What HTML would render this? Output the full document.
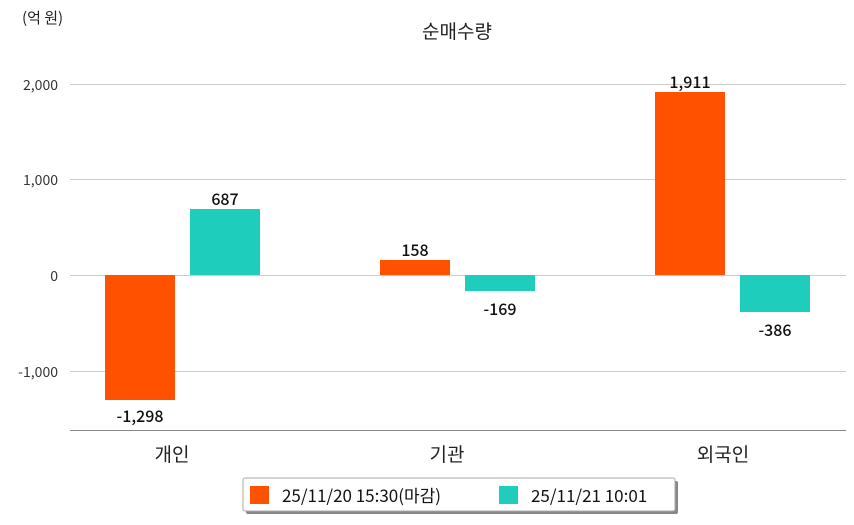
<!DOCTYPE html>
<html><head><meta charset="utf-8"><style>
body{margin:0;background:#fff;}
svg text{font-family:"Noto Sans CJK KR","Liberation Sans",sans-serif;}
</style></head><body>
<svg width="854" height="520" xmlns="http://www.w3.org/2000/svg">
<rect width="854" height="520" fill="#fff"/>
<text x="22" y="23" font-size="15" fill="#222">(억 원)</text>
<text x="457" y="38" font-size="19" fill="#222" text-anchor="middle">순매수량</text>
<g stroke="#cccccc" stroke-width="1">
<line x1="70" y1="84.5" x2="846" y2="84.5"/>
<line x1="70" y1="179.5" x2="846" y2="179.5"/>
<line x1="70" y1="275.5" x2="846" y2="275.5"/>
<line x1="70" y1="371.5" x2="846" y2="371.5"/>
</g>
<line x1="70" y1="430.5" x2="846" y2="430.5" stroke="#888" stroke-width="1"/>
<g font-size="14" fill="#333" text-anchor="end">
<text x="58" y="90">2,000</text>
<text x="58" y="185">1,000</text>
<text x="58" y="281">0</text>
<text x="58" y="377">-1,000</text>
</g>
<g fill="#ff5100">
<rect x="105" y="275" width="70" height="125"/>
<rect x="380" y="260" width="70" height="15"/>
<rect x="655" y="92" width="70" height="183"/>
</g>
<g fill="#1ecdbb">
<rect x="190" y="209" width="70" height="66"/>
<rect x="465" y="275" width="70" height="16"/>
<rect x="740" y="275" width="70" height="37"/>
</g>
<g font-size="16" fill="#111" text-anchor="middle" font-weight="500">
<text x="140" y="422">-1,298</text>
<text x="225" y="205">687</text>
<text x="415" y="256">158</text>
<text x="500" y="315">-169</text>
<text x="690" y="88">1,911</text>
<text x="775" y="336">-386</text>
</g>
<g font-size="19" fill="#222" text-anchor="middle">
<text x="172" y="461">개인</text>
<text x="447" y="461">기관</text>
<text x="723" y="461">외국인</text>
</g>
<rect x="246" y="481" width="432" height="33" fill="#888" rx="2"/>
<rect x="243" y="478" width="432" height="33" fill="#fff" stroke="#aaa" rx="2"/>
<rect x="250" y="486" width="19" height="18" fill="#ff5100"/>
<text x="282" y="502" font-size="17" fill="#111">25/11/20 15:30(마감)</text>
<rect x="499" y="486" width="19" height="18" fill="#1ecdbb"/>
<text x="531" y="502" font-size="17" fill="#111">25/11/21 10:01</text>
</svg>
</body></html>
